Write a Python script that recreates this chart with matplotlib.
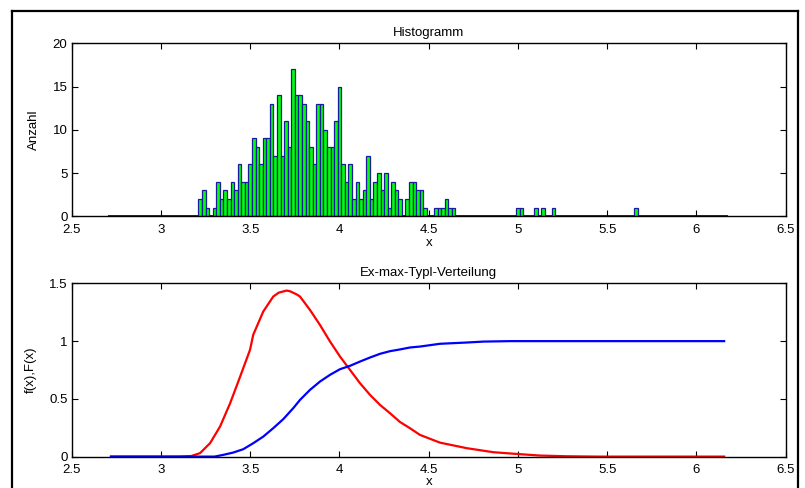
import numpy as np
import matplotlib
matplotlib.use("Agg")
import matplotlib.pyplot as plt
from matplotlib.lines import Line2D

# ---- histogram data ----
bin_width = 0.02
first_center = 3.22
counts_main = [2, 3, 1, 0, 1, 4, 2, 3, 2, 4, 3, 6, 4, 4, 6, 9, 8, 6, 9, 9,
               13, 7, 14, 7, 11, 8, 17, 14, 14, 13, 11, 8, 6, 13, 13, 10, 8, 8, 11, 15,
               6, 4, 6, 2, 4, 2, 3, 7, 2, 4, 5, 3, 5, 1, 4, 3, 2, 0, 2, 4,
               4, 3, 3, 1, 0, 0, 1, 1, 1, 2, 1, 1]
outlier_centers = [5.00, 5.02, 5.10, 5.14, 5.20, 5.66]
outlier_counts = [1, 1, 1, 1, 1, 1]
hist_range = [2.71, 6.17]

# ---- distribution curves ----
pdf_x = [2.72, 3.10, 3.17, 3.219, 3.275, 3.331, 3.387, 3.443, 3.499, 3.517, 3.573,
         3.629, 3.66, 3.704, 3.723, 3.76, 3.779, 3.835, 3.891, 3.947, 4.003, 4.059,
         4.115, 4.171, 4.227, 4.283, 4.339, 4.395, 4.451, 4.563, 4.713, 4.862,
         4.993, 5.124, 5.273, 5.45, 6.155]
pdf_y = [0.0, 0.0, 0.005, 0.03, 0.116, 0.26, 0.46, 0.69, 0.925, 1.055, 1.256,
         1.386, 1.42, 1.438, 1.432, 1.405, 1.386, 1.27, 1.14, 0.997, 0.867, 0.751,
         0.636, 0.535, 0.448, 0.376, 0.300, 0.246, 0.188, 0.121, 0.073, 0.038,
         0.023, 0.009, 0.003, 0.0, 0.0]

cdf_x = [2.72, 3.30, 3.349, 3.405, 3.461, 3.517, 3.573, 3.629, 3.685, 3.741,
         3.779, 3.835, 3.891, 3.947, 4.003, 4.059, 4.115, 4.171, 4.227, 4.283,
         4.339, 4.395, 4.451, 4.563, 4.713, 4.806, 4.955, 6.155]
cdf_y = [0.0, 0.0, 0.015, 0.035, 0.064, 0.116, 0.173, 0.246, 0.324, 0.419,
         0.491, 0.578, 0.65, 0.708, 0.757, 0.786, 0.823, 0.858, 0.89, 0.913,
         0.928, 0.945, 0.953, 0.977, 0.988, 0.996, 1.0, 1.0]

x_ticks = [2.5, 3, 3.5, 4, 4.5, 5, 5.5, 6, 6.5]

W, H = 805, 488
fig = plt.figure(figsize=(W / 100, H / 100), dpi=100)
plt.rcParams['font.family'] = ['Liberation Sans', 'DejaVu Sans']

def px_axes(left, top, right, bottom):
    return fig.add_axes([left / W, 1 - bottom / H, (right - left) / W, (bottom - top) / H])

ax1 = px_axes(71.7, 43.3, 785.7, 216.3)
ax2 = px_axes(71.7, 283.4, 785.7, 456.6)

fs = 9.5
for ax in (ax1, ax2):
    ax.tick_params(direction='in', top=True, right=True, labelsize=fs, length=4,
                   width=0.8)
    ax.tick_params(axis='x', pad=5.5)
    ax.tick_params(axis='y', pad=3)
    for s in ax.spines.values():
        s.set_linewidth(1.0)
        s.set_color('black')
    ax.set_xlim(2.5, 6.5)
    ax.set_xticks(x_ticks)
    ax.set_xticklabels(['%g' % t for t in x_ticks])

# histogram
centers_main = [first_center + i * bin_width for i in range(len(counts_main))]
edge = '#1a1aa0'
ax1.plot(hist_range, [0, 0], color=edge, lw=1.4, zorder=1)
ax1.bar(centers_main, counts_main, width=bin_width, color='#00ff00',
        edgecolor=edge, linewidth=0.9, zorder=2)
ax1.bar(outlier_centers, outlier_counts, width=bin_width, color='#00ff00',
        edgecolor=edge, linewidth=0.9, zorder=2)
ax1.set_ylim(0, 20)
ax1.set_yticks([0, 5, 10, 15, 20])
ax1.set_title('Histogramm', fontsize=fs, pad=5)
ax1.set_xlabel('x', fontsize=fs, labelpad=0.5)
ax1.set_ylabel('Anzahl', fontsize=fs, labelpad=9)

# distribution
ax2.plot(pdf_x, pdf_y, color='#ff0000', lw=1.6)
ax2.plot(cdf_x, cdf_y, color='#0000ff', lw=1.6)
ax2.set_ylim(0, 1.5)
ax2.set_yticks([0, 0.5, 1, 1.5])
ax2.set_yticklabels(['0', '0.5', '1', '1.5'])
ax2.set_title('Ex-max-Typl-Verteilung', fontsize=fs, pad=5)
ax2.set_xlabel('x', fontsize=fs, labelpad=0)
ax2.set_ylabel('f(x),F(x)', fontsize=fs, labelpad=9)

# outer frame
def fl(x0, y0, x1, y1):
    fig.add_artist(Line2D([x0 / W, x1 / W], [1 - y0 / H, 1 - y1 / H],
                          color='black', lw=1.6, transform=fig.transFigure))
fl(12, 11, 12, 488)
fl(12, 11, 798, 11)
fl(798, 11, 798, 488)

fig.savefig('out.png', dpi=100)
